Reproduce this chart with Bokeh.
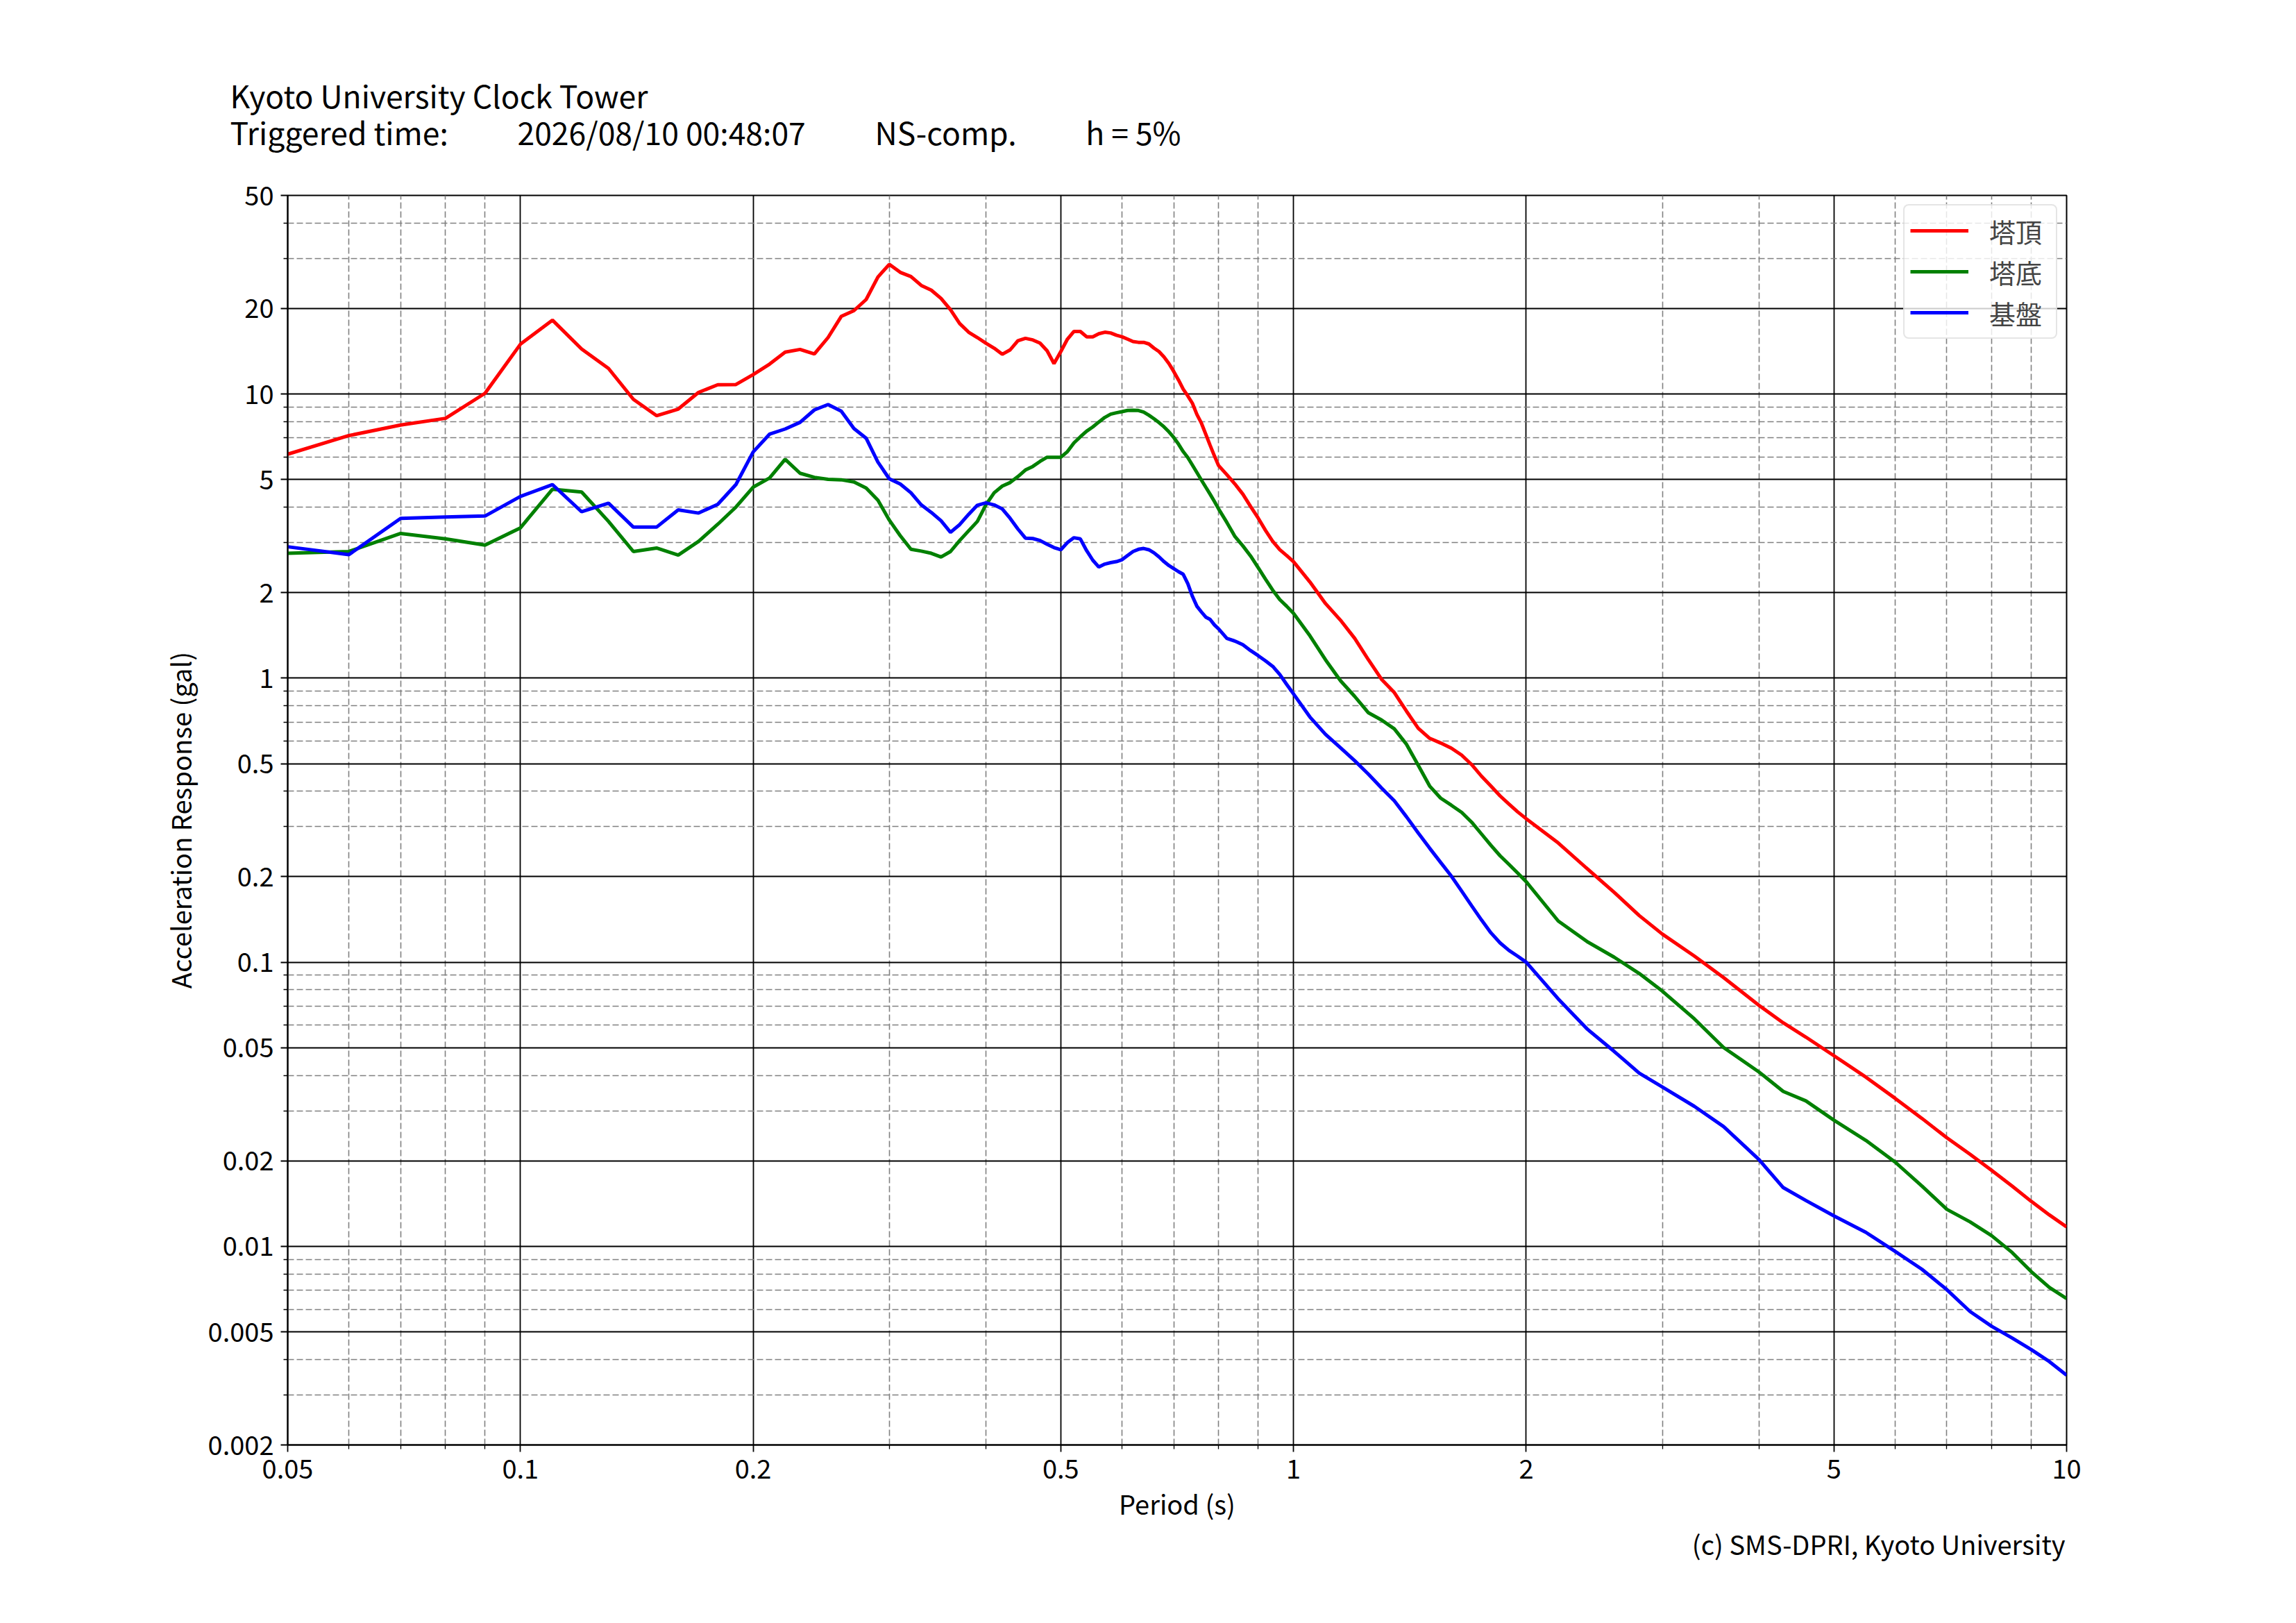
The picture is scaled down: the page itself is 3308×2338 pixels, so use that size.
from bokeh.plotting import figure
from bokeh.models import FixedTicker, CustomJSTickFormatter, Title, Range1d
from bokeh.embed import file_html
from bokeh.resources import INLINE

FONT = "Noto Sans CJK JP"

# Period (s)
period = [0.05, 0.06, 0.07, 0.08, 0.09, 0.10, 0.11, 0.12, 0.13, 0.14,
          0.15, 0.16, 0.17, 0.18, 0.19, 0.20, 0.21, 0.22, 0.23, 0.24,
          0.25, 0.26, 0.27, 0.28, 0.29, 0.30,
          0.31, 0.32, 0.33, 0.34, 0.35, 0.36, 0.37, 0.38, 0.39, 0.40,
          0.41, 0.42, 0.43, 0.44, 0.45, 0.46, 0.47, 0.48, 0.49, 0.50,
          0.51, 0.52, 0.53, 0.54, 0.55, 0.56, 0.57, 0.58, 0.59, 0.60,
          0.61, 0.62, 0.63, 0.64, 0.65, 0.66, 0.67, 0.68, 0.69, 0.70,
          0.71, 0.72, 0.73, 0.74, 0.75, 0.76, 0.77, 0.78, 0.79, 0.80,
          0.82, 0.84, 0.86, 0.88, 0.90, 0.92, 0.94, 0.96, 0.98, 1.00,
          1.05, 1.10, 1.15, 1.20, 1.25, 1.30, 1.35, 1.40, 1.45, 1.50,
          1.55, 1.60, 1.65, 1.70, 1.75, 1.80, 1.85, 1.90, 1.95, 2.00,
          2.2, 2.4, 2.6, 2.8, 3.0, 3.3, 3.6, 4.0, 4.3, 4.6,
          5.0, 5.5, 6.0, 6.5, 7.0, 7.5, 8.0, 8.5, 9.0, 9.5, 10.0]

# 塔頂 (tower top)
tower_top = [6.14, 7.14, 7.78, 8.21, 10.06, 14.97, 18.2, 14.4, 12.3, 9.58,
             8.39, 8.85, 10.13, 10.78, 10.8, 11.7, 12.74, 14.04, 14.35, 13.83,
             15.8, 18.75, 19.65, 21.5, 25.8, 28.6,
             26.8, 25.9, 24.1, 23.2, 21.7, 19.8, 17.7, 16.5, 15.8, 15.1,
             14.5, 13.8, 14.3, 15.4, 15.7, 15.5, 15.1, 14.2, 12.8, 14.1,
             15.6, 16.6, 16.6, 15.9, 15.9, 16.3, 16.5, 16.4, 16.1, 15.9,
             15.6, 15.3, 15.2, 15.2, 15.0, 14.5, 14.1, 13.5, 12.8, 12.0,
             11.2, 10.4, 9.84, 9.27, 8.47, 7.9, 7.22, 6.6, 6.06, 5.6,
             5.2, 4.82, 4.44, 4.02, 3.66, 3.31, 3.03, 2.83, 2.7, 2.57,
             2.18, 1.83, 1.6, 1.38, 1.16, 0.99, 0.89, 0.765, 0.666, 0.614,
             0.591, 0.567, 0.536, 0.496, 0.452, 0.417, 0.385, 0.36, 0.338, 0.32,
             0.263, 0.213, 0.176, 0.146, 0.1256, 0.1051, 0.0883, 0.0705, 0.0612, 0.0545,
             0.0469, 0.0394, 0.0332, 0.0282, 0.0241, 0.0211, 0.0185, 0.0163, 0.0144, 0.0129, 0.0117]

# 塔底 (tower base)
tower_base = [2.75, 2.79, 3.23, 3.09, 2.94, 3.38, 4.62, 4.52, 3.56, 2.79,
              2.87, 2.71, 3.03, 3.48, 4.0, 4.7, 5.06, 5.89, 5.26, 5.09,
              5.01, 4.99, 4.9, 4.67, 4.23, 3.6,
              3.17, 2.84, 2.8, 2.75, 2.67, 2.79, 3.05, 3.3, 3.56, 4.07,
              4.49, 4.74, 4.88, 5.12, 5.4, 5.56, 5.79, 5.99, 5.99, 5.99,
              6.27, 6.73, 7.07, 7.4, 7.66, 7.97, 8.27, 8.49, 8.59, 8.67,
              8.75, 8.76, 8.75, 8.64, 8.42, 8.18, 7.93, 7.66, 7.36, 7.03,
              6.66, 6.27, 5.97, 5.62, 5.29, 4.98, 4.7, 4.44, 4.19, 3.94,
              3.53, 3.15, 2.92, 2.69, 2.45, 2.23, 2.04, 1.89, 1.79, 1.69,
              1.41, 1.16, 0.98, 0.862, 0.755, 0.712, 0.663, 0.585, 0.493, 0.417,
              0.378, 0.357, 0.337, 0.311, 0.283, 0.258, 0.237, 0.221, 0.206, 0.192,
              0.1397, 0.118, 0.1041, 0.0913, 0.0791, 0.0632, 0.0501, 0.0411, 0.0351, 0.0325,
              0.0278, 0.0236, 0.0198, 0.0163, 0.0135, 0.0122, 0.0109, 0.00952, 0.00815, 0.00717, 0.00655]

# 基盤 (bedrock)
bedrock = [2.90, 2.72, 3.65, 3.69, 3.72, 4.36, 4.8, 3.85, 4.13, 3.4,
           3.4, 3.91, 3.81, 4.09, 4.8, 6.25, 7.22, 7.53, 7.95, 8.79,
           9.18, 8.7, 7.56, 6.99, 5.76, 5.03,
           4.82, 4.49, 4.07, 3.83, 3.58, 3.26, 3.47, 3.77, 4.06, 4.14,
           4.07, 3.94, 3.65, 3.35, 3.11, 3.1, 3.05, 2.96, 2.88, 2.83,
           3.0, 3.12, 3.09, 2.81, 2.6, 2.46, 2.52, 2.55, 2.57, 2.61,
           2.7, 2.79, 2.84, 2.86, 2.83, 2.76, 2.67, 2.57, 2.49, 2.43,
           2.37, 2.32, 2.15, 1.94, 1.79, 1.71, 1.64, 1.61, 1.54, 1.49,
           1.38, 1.35, 1.31, 1.25, 1.2, 1.15, 1.1, 1.03, 0.95, 0.88,
           0.73, 0.634, 0.569, 0.512, 0.459, 0.41, 0.37, 0.325, 0.285, 0.252,
           0.2245, 0.201, 0.178, 0.158, 0.141, 0.127, 0.117, 0.110, 0.105, 0.1,
           0.0743, 0.0581, 0.0485, 0.0407, 0.0364, 0.0311, 0.0264, 0.0202, 0.0161, 0.0145,
           0.0128, 0.0112, 0.0096, 0.0083, 0.00704, 0.0059, 0.00523, 0.00476, 0.00433, 0.00393, 0.00352]

series_names = ["塔頂", "塔底", "基盤"]
series_colors = ["#ff0000", "#008000", "#0000ff"]

x_major = [0.05, 0.1, 0.2, 0.5, 1, 2, 5, 10]
x_minor = [0.06, 0.07, 0.08, 0.09, 0.3, 0.4, 0.6, 0.7, 0.8, 0.9, 3, 4, 6, 7, 8, 9]
y_major = [0.002, 0.005, 0.01, 0.02, 0.05, 0.1, 0.2, 0.5, 1, 2, 5, 10, 20, 50]
y_minor = [0.003, 0.004, 0.006, 0.007, 0.008, 0.009,
           0.03, 0.04, 0.06, 0.07, 0.08, 0.09,
           0.3, 0.4, 0.6, 0.7, 0.8, 0.9,
           3, 4, 6, 7, 8, 9, 30, 40]

title_line1 = "Kyoto University Clock Tower"
title_parts = ["Triggered time:", "2026/08/10 00:48:07", "NS-comp.", "h = 5%"]
footer = "(c) SMS-DPRI, Kyoto University"

W, H = 3292, 2322
p = figure(width=W, height=H, x_axis_type="log", y_axis_type="log",
           x_range=Range1d(0.05, 10), y_range=Range1d(0.002, 50),
           output_backend="svg", toolbar_location=None,
           min_border_left=414, min_border_right=W - 2977,
           min_border_top=281, min_border_bottom=H - 2081)
p.background_fill_color = "white"
p.border_fill_color = "white"
p.outline_line_color = "black"
p.outline_line_width = 2

for ys, name, col in zip([tower_top, tower_base, bedrock], series_names, series_colors):
    p.line(period, ys, line_color=col, line_width=5, legend_label=name)

p.xaxis.ticker = FixedTicker(ticks=x_major, minor_ticks=x_minor)
p.yaxis.ticker = FixedTicker(ticks=y_major, minor_ticks=y_minor)
p.xaxis.formatter = CustomJSTickFormatter(code="return String(tick);")
p.yaxis.formatter = CustomJSTickFormatter(code="return String(tick);")

for ax in [p.xaxis[0], p.yaxis[0]]:
    ax.axis_line_color = "black"
    ax.axis_line_width = 2
    ax.major_tick_in = 0
    ax.major_tick_out = 10
    ax.major_tick_line_width = 1.8
    ax.minor_tick_in = 0
    ax.minor_tick_out = 6
    ax.minor_tick_line_width = 1.3
    ax.major_label_text_font = FONT
    ax.major_label_text_font_size = "38px"
    ax.major_label_text_color = "black"
    ax.axis_label_text_font = FONT
    ax.axis_label_text_font_size = "38px"
    ax.axis_label_text_font_style = "normal"
    ax.axis_label_text_color = "black"
    ax.major_label_standoff = 10

p.xaxis.axis_label = "Period (s)"
p.yaxis.axis_label = "Acceleration Response (gal)"
p.xaxis.axis_label_standoff = 5
p.yaxis.axis_label_standoff = 10

for g in [p.xgrid[0], p.ygrid[0]]:
    g.grid_line_color = "black"
    g.grid_line_width = 1.8
    g.minor_grid_line_color = "#808080"
    g.minor_grid_line_width = 1.6
    g.minor_grid_line_dash = "9 4"

lg = p.legend[0]
lg.location = "top_right"
lg.margin = 13
lg.padding = 8
lg.spacing = 3
lg.glyph_width = 84
lg.glyph_height = 56
lg.label_height = 56
lg.label_width = 88
lg.label_standoff = 30
lg.label_text_font = FONT
lg.label_text_font_size = "38px"
lg.label_text_baseline = "middle"
lg.border_line_color = "#cccccc"
lg.border_line_width = 2
lg.background_fill_color = "white"
lg.background_fill_alpha = 0.8
if "border_radius" in lg.properties():
    lg.border_radius = 8

# header (two lines) above the plot, footer below it
gap = "\u00a0" * 10
header = title_line1 + "\n" + gap.join(title_parts)
p.add_layout(Title(text=header, align="left", offset=-83, standoff=118,
                   text_font=FONT, text_font_size="44.5px", text_font_style="normal",
                   text_color="black", text_line_height=0.83), "above")
p.add_layout(Title(text=footer, align="right", offset=2, standoff=-3,
                   text_font=FONT, text_font_size="38px", text_font_style="normal",
                   text_color="black"), "below")

open("out.html", "w").write(file_html(p, INLINE))
